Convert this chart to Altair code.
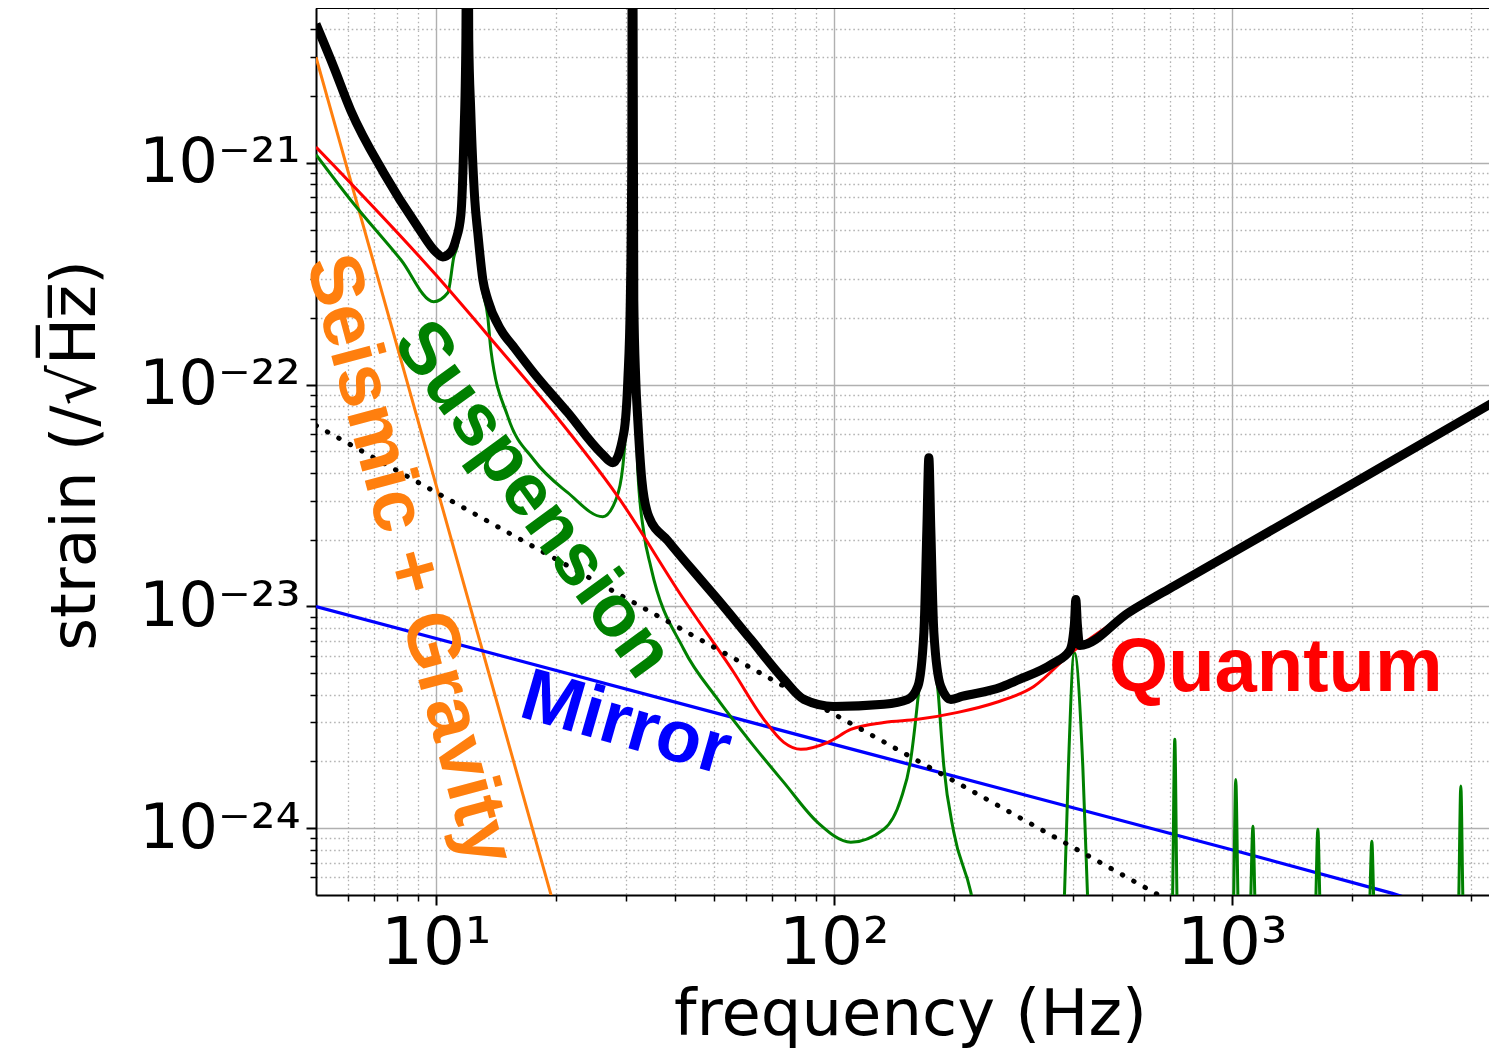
import json
import altair as alt
import pandas as pd

# ---------------- data ----------------
total_f = [5.0, 5.54, 6.11, 7.40, 9.01, 10.0, 10.41, 10.91, 11.23, 11.56, 11.76, 11.90, 12.00,
           12.10, 12.24, 12.53, 12.75, 13.13, 13.51, 14.57, 15.70, 17.63, 21.46, 25.98, 27.85,
           29.68, 30.37, 30.81, 31.08, 31.17, 31.44, 31.80, 32.17, 32.93, 34.30, 38.28, 46.33,
           51.11, 61.87, 74.88, 84.08, 100.0, 133.6, 153.5, 162.6, 168.4, 171.3, 173.3, 175.3,
           178.4, 185.7, 196.8, 209.7, 262.8, 285.0, 355.1, 391.7, 402.2, 405.6, 409.2, 415.0,
           551.0, 719.2, 994.0, 2073.0, 4660.0]
total_s = [4.23e-21, 2.71e-21, 1.73e-21, 9.02e-22, 5.15e-22, 3.97e-22, 3.77e-22, 3.97e-22,
           4.50e-22, 5.83e-22, 1.27e-21, 3.58e-21, 1e-19, 3.58e-21, 1.73e-21, 6.81e-22, 4.84e-22,
           2.97e-22, 2.41e-22, 1.77e-22, 1.48e-22, 1.13e-22, 7.48e-23, 4.94e-23, 4.45e-23,
           6.08e-23, 1.05e-22, 2.41e-22, 1.15e-21, 1e-19, 2.41e-22, 1.05e-22, 6.96e-23, 3.73e-23,
           2.54e-23, 1.98e-23, 1.32e-23, 1.075e-23, 7.10e-24, 4.69e-24, 3.81e-24, 3.54e-24,
           3.62e-24, 3.81e-24, 4.36e-24, 7.64e-24, 2.22e-23, 4.69e-23, 2.22e-23, 7.64e-24,
           4.36e-24, 3.81e-24, 3.93e-24, 4.32e-24, 4.60e-24, 5.53e-24, 6.34e-24, 8.30e-24,
           1.075e-23, 8.30e-24, 6.67e-24, 9.40e-24, 1.243e-23, 1.73e-23, 3.69e-23, 8.56e-23]

quantum_f = [5.0, 10.0, 14.32, 19.45, 28.67, 42.0, 56.08, 66.71, 74.88, 82.62, 96.6, 110.3,
             133.6, 162.6, 204.9, 255.3, 318.1, 396.3, 551.0, 994.0, 2073.0, 4660.0]
quantum_s = [1.18e-21, 3.13e-22, 1.48e-22, 7.72e-23, 3.13e-23, 1.075e-23, 5.04e-24, 3.10e-24,
             2.44e-24, 2.27e-24, 2.44e-24, 2.79e-24, 3.00e-24, 3.10e-24, 3.33e-24, 3.69e-24,
             4.36e-24, 6.21e-24, 9.40e-24, 1.73e-23, 3.69e-23, 8.56e-23]

suspension_f = [5.0, 6.11, 8.17, 9.88, 10.72, 11.10, 11.36, 11.56, 11.76, 11.90, 12.00, 12.10,
                12.24, 12.53, 12.75, 12.98, 13.51, 13.75, 15.17, 17.63, 21.46, 26.28, 28.34,
                29.50, 30.37, 30.81, 31.08, 31.17, 31.44, 31.80, 32.17, 33.32, 34.69, 42.0,
                51.11, 61.87, 74.88, 91.2, 110.3, 133.6, 147.3, 156.1, 162.6, 168.4, 171.3,
                173.3, 175.3, 178.4, 183.5, 189.0, 200.2, 220.9, 234.0, 300.0, 374.0, 380.0,
                388.6, 402.0, 422.3, 433.7, 439.5, 550.0, 708.0, 719.0, 730.0, 870.0, 1008.0,
                1023.0, 1038.0, 1076.0, 1113.0, 1130.0, 1147.0, 1400.0, 1620.0, 1645.0, 1670.0,
                1950.0, 2214.0, 2248.0, 2282.0, 3000.0, 3706.0, 3762.0, 3818.0, 4660.0]
suspension_s = [1.09e-21, 6.81e-22, 3.66e-22, 2.37e-22, 2.60e-22, 3.77e-22, 4.36e-22, 5.83e-22,
                1.27e-21, 3.58e-21, 1e-19, 3.58e-21, 1.73e-21, 6.81e-22, 4.84e-22, 3.07e-22,
                2.02e-22, 1.44e-22, 7.18e-23, 4.59e-23, 3.26e-23, 2.54e-23, 3.03e-23, 4.27e-23,
                1.00e-22, 2.41e-22, 1.15e-21, 1e-19, 2.41e-22, 1.00e-22, 4.14e-23, 2.15e-23,
                1.51e-23, 6.40e-24, 3.81e-24, 2.44e-24, 1.61e-24, 1.06e-24, 8.65e-25, 9.90e-25,
                1.35e-24, 2.05e-24, 3.81e-24, 7.48e-24, 2.22e-23, 4.59e-23, 2.22e-23, 7.48e-24,
                3.81e-24, 1.90e-24, 9.59e-25, 5.15e-25, 3.0e-25, 1.0e-25, 3.0e-25, 5.15e-25,
                1.90e-24, 6.21e-24, 1.90e-24, 5.15e-25, 3.0e-25, 1.0e-25, 4.0e-25, 2.52e-24,
                4.0e-25, 1.0e-25, 4.0e-25, 1.66e-24, 4.0e-25, 1.0e-25, 4.0e-25, 1.02e-24, 4.0e-25,
                1.0e-25, 4.0e-25, 9.90e-25, 4.0e-25, 1.0e-25, 4.0e-25, 8.74e-25, 4.0e-25, 1.0e-25,
                4.0e-25, 1.55e-24, 4.0e-25, 1.0e-25]

seismic_f = [5.0, 10.0, 19.45, 21.0]
seismic_s = [3.0e-21, 3.56e-23, 5.05e-25, 3.1e-25]

mirror_f = [5.0, 100.0, 1000.0, 2520.0, 3000.0]
mirror_s = [1.0e-23, 2.39e-24, 8.0e-25, 5.1e-25, 4.6e-25]

dotted_f = [5.0, 98.3, 629.5, 700.0]
dotted_s = [6.55e-23, 3.33e-24, 5.2e-25, 4.67e-25]

label_text = ["Seismic + Gravity", "Suspension", "Mirror", "Quantum"]
label_f = [8.60, 17.5, 30.0, 1290.0]
label_s = [1.63e-23, 3.03e-23, 2.94e-24, 4.18e-24]
label_angle = [75, 54, 16, 0]
label_size = [75, 74, 74, 76]
label_color = ["#ff7f0e", "#008000", "#0000ff", "#ff0000"]
label_baseline = ["middle", "middle", "middle", "alphabetic"]

x_major = [10, 100, 1000]
x_major_labels = ["10¹", "10²", "10³"]
x_minor = [6, 7, 8, 9, 20, 30, 40, 50, 60, 70, 80, 90, 200, 300, 400, 500, 600, 700, 800, 900,
           2000, 3000, 4000]
y_major = [1e-24, 1e-23, 1e-22, 1e-21]
y_major_labels = ["10⁻²⁴", "10⁻²³", "10⁻²²", "10⁻²¹"]
y_minor = [6e-25, 7e-25, 8e-25, 9e-25,
           2e-24, 3e-24, 4e-24, 5e-24, 6e-24, 7e-24, 8e-24, 9e-24,
           2e-23, 3e-23, 4e-23, 5e-23, 6e-23, 7e-23, 8e-23, 9e-23,
           2e-22, 3e-22, 4e-22, 5e-22, 6e-22, 7e-22, 8e-22, 9e-22,
           2e-21, 3e-21, 4e-21]

PLOT_W, PLOT_H = 1173, 887


# ---------------- helpers ----------------
def label_expr(values, labels):
    expr = "''"
    for v, l in reversed(list(zip(values, labels))):
        expr = f"datum.value == {json.dumps(v)} ? '{l}' : ({expr})"
    return expr


def cond(test, major_value, minor_value):
    return {"condition": {"test": test, "value": major_value}, "value": minor_value}


def make_axis(major, minor, labels, **extra):
    test = f"indexof({json.dumps(major)}, datum.value) >= 0"
    return alt.Axis(
        values=sorted(major + minor),
        labelExpr=label_expr(major, labels),
        labelOverlap=False,
        labelFlush=False,
        labelFont="DejaVu Sans",
        labelColor="black",
        grid=True,
        gridColor=cond(test, "#b0b0b0", "#b4b4b4"),
        gridDash=cond(test, [], [1.6, 2.8]),
        gridWidth=cond(test, 1.4, 1.3),
        tickSize=cond(test, 10, 6),
        tickWidth=cond(test, 2, 1.5),
        tickColor="black",
        domainColor="black",
        domainWidth=2,
        titleFont="DejaVu Sans",
        titleFontWeight="normal",
        titleColor="black",
        titleAlign="center",
        titleBaseline="alphabetic",
        **extra,
    )


x_axis = make_axis(x_major, x_minor, x_major_labels, labelFontSize=66, labelPadding=6,
                   titleFontSize=64, titleX=594, titleY=139, titleAngle=0)
y_axis = make_axis(y_major, y_minor, y_major_labels, labelFontSize=62, labelPadding=6,
                   titleFontSize=63, titleX=-222, titleY=447, titleAngle=-90)

x_enc = alt.X("f:Q", scale=alt.Scale(type="log", domain=[5, 4428], nice=False),
              axis=x_axis, title="frequency (Hz)")
y_enc = alt.Y("s:Q", scale=alt.Scale(type="log", domain=[5e-25, 5e-21], nice=False),
              axis=y_axis, title="strain (/√H̅z̅)")


def line(f, s, color, width, **kw):
    df = pd.DataFrame({"f": f, "s": s})
    return alt.Chart(df).mark_line(color=color, strokeWidth=width, clip=True,
                                   strokeJoin="round", **kw).encode(x=x_enc, y=y_enc)


layers = [
    line(seismic_f, seismic_s, "#ff7f0e", 3),
    line(mirror_f, mirror_s, "#0000ff", 3.3),
    line(suspension_f, suspension_s, "#008000", 3, interpolate="monotone"),
    line(quantum_f, quantum_s, "#ff0000", 3, interpolate="monotone"),
    line(dotted_f, dotted_s, "black", 5, strokeDash=[0.5, 12.5], strokeCap="round"),
    line(total_f, total_s, "black", 9, interpolate="monotone"),
]

for t, f, s, a, fs, c, b in zip(label_text, label_f, label_s, label_angle, label_size,
                                label_color, label_baseline):
    df = pd.DataFrame({"f": [f], "s": [s], "t": [t]})
    layers.append(
        alt.Chart(df).mark_text(angle=a, color=c, font="Liberation Sans", fontWeight="bold",
                                fontSize=fs, align="center", baseline=b)
        .encode(x=x_enc, y=y_enc, text="t:N")
    )

# top spine of the frame (the right spine is cropped away in the reference)
top_spine = alt.Chart(pd.DataFrame({"k": [0]})).mark_rule(color="black", strokeWidth=2).encode(
    x=alt.value(0), x2=alt.value(PLOT_W), y=alt.value(0))
layers.append(top_spine)

chart = (
    alt.layer(*layers)
    .properties(width=PLOT_W, height=PLOT_H,
                autosize=alt.AutoSizeParams(type="none"),
                padding={"left": 308, "top": 0, "right": 0, "bottom": 158})
    .configure_view(strokeWidth=0)
    .configure(background="white")
)

chart.save("out.html", embed_options={"renderer": "svg", "actions": False})
